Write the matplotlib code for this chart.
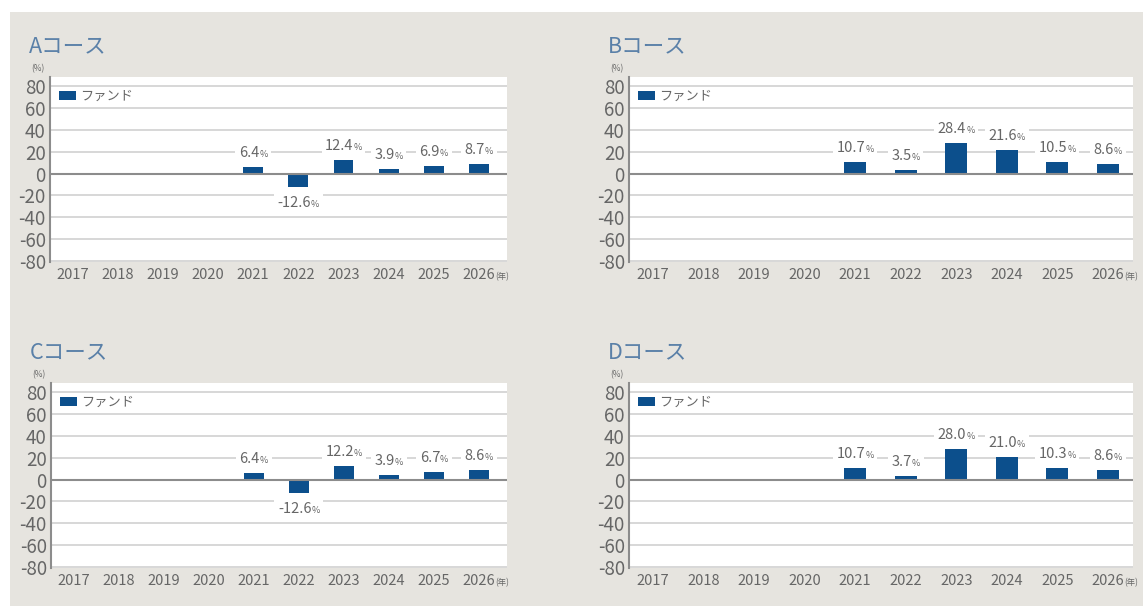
import matplotlib
matplotlib.use("Agg")
import matplotlib.pyplot as plt
from matplotlib.patches import Rectangle
from matplotlib.offsetbox import TextArea, HPacker, AnnotationBbox
import numpy as np

plt.rcParams['font.family'] = ['Noto Sans CJK JP', 'DejaVu Sans']

years = ["2017", "2018", "2019", "2020", "2021", "2022", "2023", "2024", "2025", "2026"]
titles = ["Aコース", "Bコース", "Cコース", "Dコース"]
legend_label = "ファンド"
values_a = [None, None, None, None, 6.4, -12.6, 12.4, 3.9, 6.9, 8.7]
values_b = [None, None, None, None, 10.7, 3.5, 28.4, 21.6, 10.5, 8.6]
values_c = [None, None, None, None, 6.4, -12.6, 12.2, 3.9, 6.7, 8.6]
values_d = [None, None, None, None, 10.7, 3.7, 28.0, 21.0, 10.3, 8.6]
yticks = [80, 60, 40, 20, 0, -20, -40, -60, -80]

W, H = 1143, 606
fig = plt.figure(figsize=(W / 100, H / 100), dpi=100)
fig.patch.set_facecolor("white")
fig.patches.append(Rectangle((10 / W, 0), 1 - 10 / W, 1 - 12 / H, transform=fig.transFigure,
                             facecolor="#e6e4df", edgecolor="none", zorder=-10))

BAR = "#0c4f8c"
TXT = "#666666"
TITLE = "#5a80a8"

# (left, right, top, bottom) in pixels
boxes = [(50, 507, 77, 262), (629, 1133, 77, 262), (51, 507, 383, 568), (629, 1133, 383, 568)]
xlims = [(-0.5, 9.62), (-0.48, 9.5), (-0.5, 9.62), (-0.48, 9.5)]
series = [values_a, values_b, values_c, values_d]

for k in range(4):
    l, r, t, b = boxes[k]
    ax = fig.add_axes([l / W, 1 - b / H, (r - l) / W, (b - t) / H])
    ax.set_zorder(1)
    ax.set_facecolor("white")
    vals = series[k]
    x = np.arange(len(years))
    hv = [np.nan if v is None else v for v in vals]
    ax.bar(x, hv, width=0.44, color=BAR, zorder=3, label=legend_label)
    ax.set_xlim(*xlims[k])
    ax.set_ylim(-81, 88.5)
    for yv in yticks:
        if yv == 0:
            continue
        ax.axhline(yv, color="#d4d4d4", lw=1.3, zorder=1)
    ax.axhline(0, color="#8c8c8c", lw=1.5, zorder=4)
    for s in ["top", "right", "bottom"]:
        ax.spines[s].set_visible(False)
    ax.spines["left"].set_color("#8c8c8c")
    ax.spines["left"].set_linewidth(1.5)
    ax.set_yticks(yticks)
    ax.set_yticklabels([str(v) for v in yticks], fontsize=13.5, color=TXT)
    ax.set_xticks(x)
    ax.set_xticklabels(years, fontsize=10.5, color=TXT)
    ax.tick_params(axis="both", length=0)
    ax.tick_params(axis="y", pad=3)
    ax.tick_params(axis="x", pad=4)
    # (年)
    ax.annotate("(年)", xy=(len(years) - 1, 0), xycoords=("data", "axes fraction"),
                xytext=(12, -10.5), textcoords="offset points", fontsize=6, color=TXT,
                ha="left", va="center", annotation_clip=False)
    # (%)
    ax.annotate("(%)", xy=(0, 1), xycoords="axes fraction", xytext=(-9, 3),
                textcoords="offset points", fontsize=6, color=TXT, ha="center", va="bottom",
                annotation_clip=False)
    # title
    fig.text((l - 21) / W, 1 - (t - 31) / H, titles[k], fontsize=15.5, color=TITLE, ha="left", va="center")
    # legend
    leg = ax.legend(loc="upper left", frameon=False, fontsize=9.5, handlelength=1.3, handleheight=0.7,
                    handletextpad=0.3, borderaxespad=0.3, bbox_to_anchor=(0.0, 0.98))
    for txt in leg.get_texts():
        txt.set_color(TXT)
    # value labels
    for i, v in enumerate(vals):
        if v is None:
            continue
        num = TextArea(f"{v:.1f}", textprops=dict(size=10.5, color=TXT))
        pct = TextArea("%", textprops=dict(size=6.5, color=TXT))
        hb = HPacker(children=[num, pct], align="baseline", pad=0, sep=0)
        off = 10 if v >= 0 else -11
        ab = AnnotationBbox(hb, (i, v), xybox=(0, off), xycoords="data", boxcoords="offset points",
                            frameon=True, pad=0.25, box_alignment=(0.5, 0.5),
                            bboxprops=dict(facecolor="white", edgecolor="none"), zorder=5)
        ax.add_artist(ab)

fig.savefig("out.png", dpi=100, facecolor=fig.get_facecolor())
